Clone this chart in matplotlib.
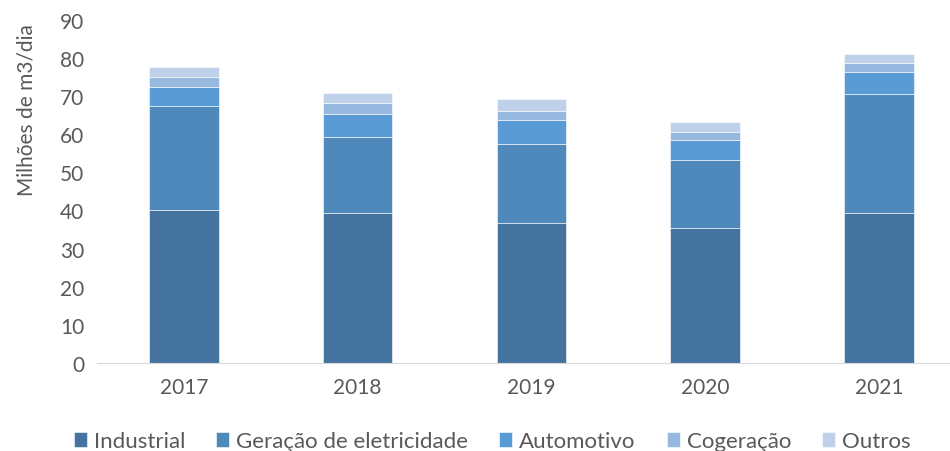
import matplotlib.pyplot as plt
import numpy as np

plt.rcParams['font.family'] = ['Lato', 'DejaVu Sans']

anos = ['2017', '2018', '2019', '2020', '2021']
industrial = [40.2, 39.4, 36.7, 35.4, 39.4]
geracao = [27.1, 19.9, 20.6, 17.9, 31.2]
automotivo = [5.1, 6.0, 6.3, 5.1, 5.7]
cogeracao = [2.7, 3.0, 2.5, 2.2, 2.4]
outros = [2.6, 2.5, 3.0, 2.6, 2.3]

series = [
    ('Industrial', industrial, '#44739F'),
    ('Geração de eletricidade', geracao, '#4F89BB'),
    ('Automotivo', automotivo, '#5B9BD5'),
    ('Cogeração', cogeracao, '#97B9E0'),
    ('Outros', outros, '#BED0EA'),
]

cinza = '#595959'

fig = plt.figure(figsize=(9.5, 4.52), dpi=100)
ax = fig.add_axes([0.102, 0.195, 0.898, 0.759])

x = np.arange(len(anos))
base = np.zeros(len(anos))
for nome, vals, cor in series:
    ax.bar(x, vals, 0.4, bottom=base, color=cor, label=nome,
           edgecolor='white', linewidth=0.4)
    base += np.array(vals)

ax.set_ylim(0, 90)
ax.set_yticks(range(0, 91, 10))
ax.set_xlim(-0.5, 4.41)
ax.set_xticks(x)
ax.set_xticklabels(anos)
ax.tick_params(axis='both', length=0, labelsize=15, colors=cinza)
ax.tick_params(axis='x', pad=10)
ax.tick_params(axis='y', pad=9)
for s in ['top', 'right', 'left']:
    ax.spines[s].set_visible(False)
ax.spines['bottom'].set_color('#D9D9D9')
ax.set_ylabel('Milhões de m3/dia', fontsize=15, color=cinza)
ax.yaxis.set_label_coords(-0.071, 0.74)

fig.legend(loc='lower center', bbox_to_anchor=(0.518, -0.045), ncol=5,
           frameon=False, fontsize=16, handlelength=0.6, handleheight=0.6,
           handletextpad=0.3, columnspacing=1.4, labelcolor=cinza)

fig.savefig('out.png', dpi=100)
